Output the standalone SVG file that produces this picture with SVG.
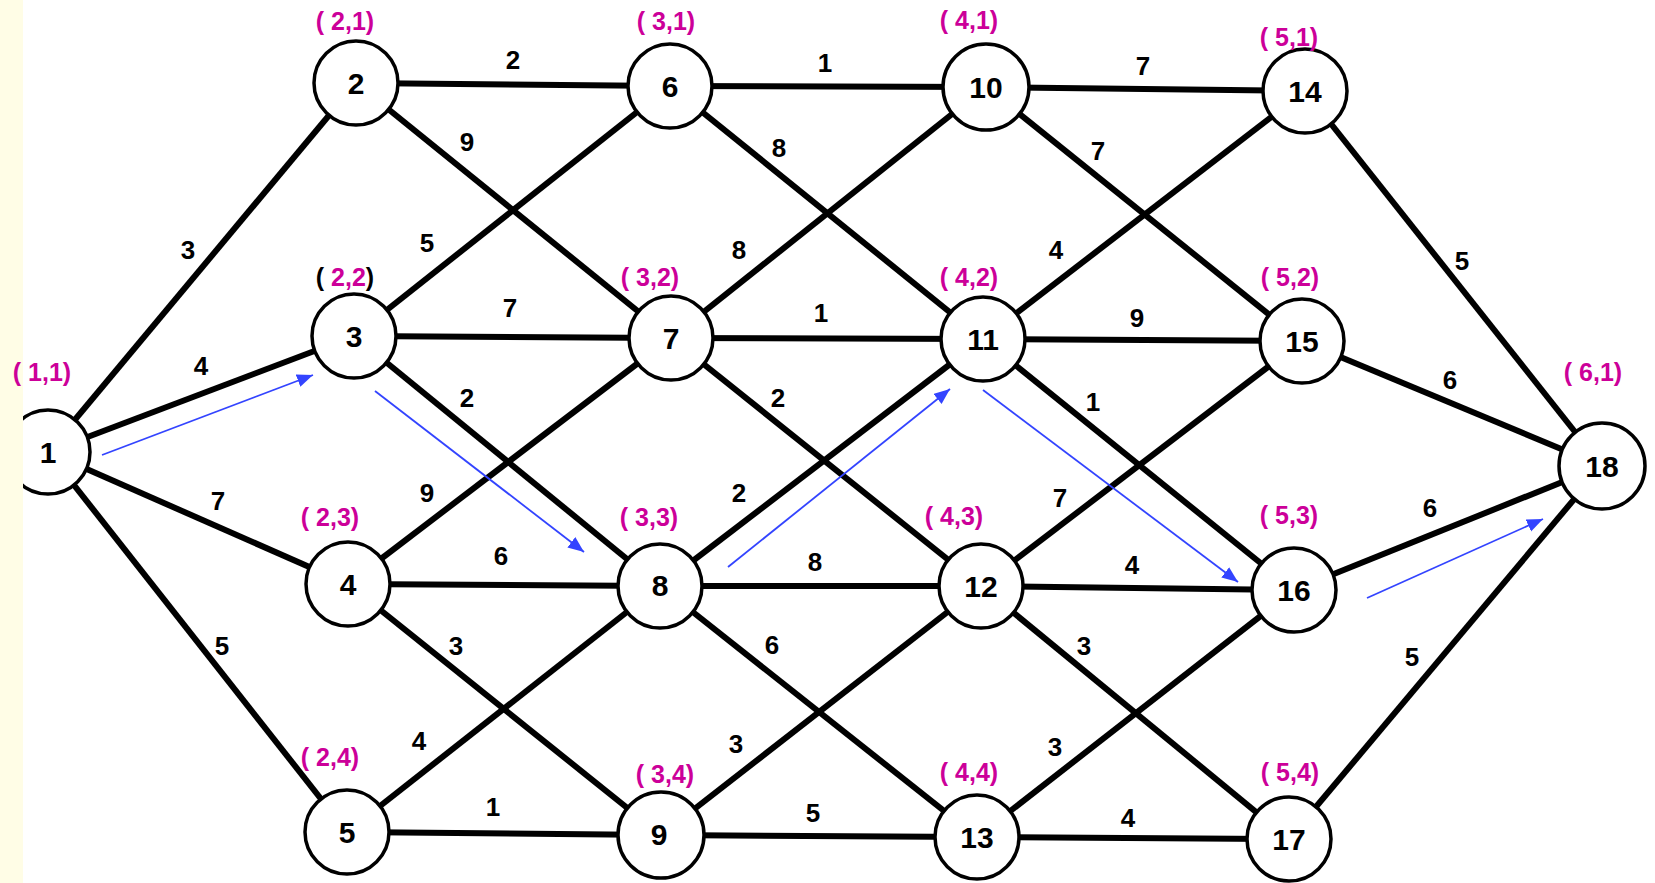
<svg xmlns="http://www.w3.org/2000/svg" width="1655" height="883" viewBox="0 0 1655 883">
<style>
.e{stroke:#000;stroke-width:6;fill:none}
.n circle{fill:#fff;stroke:#000;stroke-width:3.5}
.n text{font-family:"Liberation Sans",Arial,sans-serif;font-size:30px;font-weight:bold;text-anchor:middle;dominant-baseline:central;fill:#000}
.w{font-family:"Liberation Sans",Arial,sans-serif;font-size:26px;font-weight:bold;text-anchor:middle;dominant-baseline:central;fill:#000}
.p{font-family:"Liberation Sans",Arial,sans-serif;font-size:25px;font-weight:bold;text-anchor:middle;dominant-baseline:central;fill:#cc0099}
.a{stroke:#3344ff;stroke-width:1.8;fill:none;marker-end:url(#ah)}
</style>
<defs>
<marker id="ah" markerUnits="userSpaceOnUse" markerWidth="18" markerHeight="14" refX="16" refY="6.5" orient="auto">
<path d="M0,0 L16,6.5 L0,13 z" fill="#3344ff"/>
</marker>
</defs>
<rect x="0" y="0" width="1655" height="883" fill="#fff"/>
<g id="edges">
<line class="e" x1="48" y1="452" x2="356" y2="83"/>
<line class="e" x1="48" y1="452" x2="354" y2="336"/>
<line class="e" x1="48" y1="452" x2="348" y2="584"/>
<line class="e" x1="48" y1="452" x2="347" y2="832"/>
<line class="e" x1="356" y1="83" x2="670" y2="86"/>
<line class="e" x1="356" y1="83" x2="671" y2="338"/>
<line class="e" x1="354" y1="336" x2="670" y2="86"/>
<line class="e" x1="354" y1="336" x2="671" y2="338"/>
<line class="e" x1="354" y1="336" x2="660" y2="586"/>
<line class="e" x1="348" y1="584" x2="671" y2="338"/>
<line class="e" x1="348" y1="584" x2="660" y2="586"/>
<line class="e" x1="348" y1="584" x2="661" y2="835"/>
<line class="e" x1="347" y1="832" x2="660" y2="586"/>
<line class="e" x1="347" y1="832" x2="661" y2="835"/>
<line class="e" x1="670" y1="86" x2="986" y2="87"/>
<line class="e" x1="670" y1="86" x2="983" y2="339"/>
<line class="e" x1="671" y1="338" x2="986" y2="87"/>
<line class="e" x1="671" y1="338" x2="983" y2="339"/>
<line class="e" x1="671" y1="338" x2="981" y2="586"/>
<line class="e" x1="660" y1="586" x2="983" y2="339"/>
<line class="e" x1="660" y1="586" x2="981" y2="586"/>
<line class="e" x1="660" y1="586" x2="977" y2="837"/>
<line class="e" x1="661" y1="835" x2="981" y2="586"/>
<line class="e" x1="661" y1="835" x2="977" y2="837"/>
<line class="e" x1="986" y1="87" x2="1305" y2="91"/>
<line class="e" x1="986" y1="87" x2="1302" y2="341"/>
<line class="e" x1="983" y1="339" x2="1305" y2="91"/>
<line class="e" x1="983" y1="339" x2="1302" y2="341"/>
<line class="e" x1="983" y1="339" x2="1294" y2="590"/>
<line class="e" x1="981" y1="586" x2="1302" y2="341"/>
<line class="e" x1="981" y1="586" x2="1294" y2="590"/>
<line class="e" x1="981" y1="586" x2="1289" y2="839"/>
<line class="e" x1="977" y1="837" x2="1294" y2="590"/>
<line class="e" x1="977" y1="837" x2="1289" y2="839"/>
<line class="e" x1="1305" y1="91" x2="1602" y2="466"/>
<line class="e" x1="1302" y1="341" x2="1602" y2="466"/>
<line class="e" x1="1294" y1="590" x2="1602" y2="466"/>
<line class="e" x1="1289" y1="839" x2="1602" y2="466"/>
</g>
<g id="edge-labels">
<text class="w" x="188" y="250">3</text>
<text class="w" x="201" y="366">4</text>
<text class="w" x="218" y="501">7</text>
<text class="w" x="222" y="646">5</text>
<text class="w" x="513" y="60">2</text>
<text class="w" x="467" y="142">9</text>
<text class="w" x="427" y="243">5</text>
<text class="w" x="510" y="308">7</text>
<text class="w" x="467" y="398">2</text>
<text class="w" x="427" y="493">9</text>
<text class="w" x="501" y="556">6</text>
<text class="w" x="456" y="646">3</text>
<text class="w" x="419" y="741">4</text>
<text class="w" x="493" y="807">1</text>
<text class="w" x="825" y="63">1</text>
<text class="w" x="779" y="148">8</text>
<text class="w" x="739" y="250">8</text>
<text class="w" x="821" y="313">1</text>
<text class="w" x="778" y="398">2</text>
<text class="w" x="739" y="493">2</text>
<text class="w" x="815" y="562">8</text>
<text class="w" x="772" y="645">6</text>
<text class="w" x="736" y="744">3</text>
<text class="w" x="813" y="813">5</text>
<text class="w" x="1143" y="66">7</text>
<text class="w" x="1098" y="151">7</text>
<text class="w" x="1056" y="250">4</text>
<text class="w" x="1137" y="318">9</text>
<text class="w" x="1093" y="402">1</text>
<text class="w" x="1060" y="498">7</text>
<text class="w" x="1132" y="565">4</text>
<text class="w" x="1084" y="646">3</text>
<text class="w" x="1055" y="747">3</text>
<text class="w" x="1128" y="818">4</text>
<text class="w" x="1462" y="261">5</text>
<text class="w" x="1450" y="380">6</text>
<text class="w" x="1430" y="508">6</text>
<text class="w" x="1412" y="657">5</text>
</g>
<g id="n1" class="n"><circle cx="48" cy="452" r="42"/><text x="48" y="452">1</text></g>
<g id="n2" class="n"><circle cx="356" cy="83" r="42"/><text x="356" y="83">2</text></g>
<g id="n3" class="n"><circle cx="354" cy="336" r="42"/><text x="354" y="336">3</text></g>
<g id="n4" class="n"><circle cx="348" cy="584" r="42"/><text x="348" y="584">4</text></g>
<g id="n5" class="n"><circle cx="347" cy="832" r="42"/><text x="347" y="832">5</text></g>
<g id="n6" class="n"><circle cx="670" cy="86" r="42"/><text x="670" y="86">6</text></g>
<g id="n7" class="n"><circle cx="671" cy="338" r="42"/><text x="671" y="338">7</text></g>
<g id="n8" class="n"><circle cx="660" cy="586" r="42"/><text x="660" y="585">8</text></g>
<g id="n9" class="n"><circle cx="661" cy="835" r="43"/><text x="659" y="834">9</text></g>
<g id="n10" class="n"><circle cx="986" cy="87" r="43"/><text x="986" y="87">10</text></g>
<g id="n11" class="n"><circle cx="983" cy="339" r="42"/><text x="983" y="339">11</text></g>
<g id="n12" class="n"><circle cx="981" cy="586" r="42"/><text x="981" y="586">12</text></g>
<g id="n13" class="n"><circle cx="977" cy="837" r="42"/><text x="977" y="837">13</text></g>
<g id="n14" class="n"><circle cx="1305" cy="91" r="42"/><text x="1305" y="91">14</text></g>
<g id="n15" class="n"><circle cx="1302" cy="341" r="42"/><text x="1302" y="341">15</text></g>
<g id="n16" class="n"><circle cx="1294" cy="590" r="42"/><text x="1294" y="590">16</text></g>
<g id="n17" class="n"><circle cx="1289" cy="839" r="42"/><text x="1289" y="839">17</text></g>
<g id="n18" class="n"><circle cx="1602" cy="466" r="43"/><text x="1602" y="466">18</text></g>
<rect x="0" y="0" width="23" height="883" fill="#fffde6"/>
<g id="stage-labels">
<text class="p" x="42" y="372">( 1,1)</text>
<text class="p" x="345" y="21">( 2,1)</text>
<text class="p" x="666" y="21">( 3,1)</text>
<text class="p" x="969" y="20">( 4,1)</text>
<text class="p" x="1289" y="37">( 5,1)</text>
<text class="p" x="345" y="277"><tspan fill="#000">(</tspan> 2,2<tspan fill="#000">)</tspan></text>
<text class="p" x="650" y="277">( 3,2)</text>
<text class="p" x="969" y="277">( 4,2)</text>
<text class="p" x="1290" y="277">( 5,2)</text>
<text class="p" x="1593" y="372">( 6,1)</text>
<text class="p" x="330" y="517">( 2,3)</text>
<text class="p" x="649" y="517">( 3,3)</text>
<text class="p" x="954" y="516">( 4,3)</text>
<text class="p" x="1289" y="515">( 5,3)</text>
<text class="p" x="330" y="757">( 2,4)</text>
<text class="p" x="665" y="774">( 3,4)</text>
<text class="p" x="969" y="772">( 4,4)</text>
<text class="p" x="1290" y="772">( 5,4)</text>
</g>
<g id="path-arrows">
<line class="a" x1="102" y1="455" x2="313" y2="375"/>
<line class="a" x1="375" y1="391" x2="584" y2="552"/>
<line class="a" x1="728" y1="567" x2="950" y2="389"/>
<line class="a" x1="983" y1="390" x2="1238" y2="582"/>
<line class="a" x1="1367" y1="598" x2="1543" y2="519"/>
</g>
</svg>
